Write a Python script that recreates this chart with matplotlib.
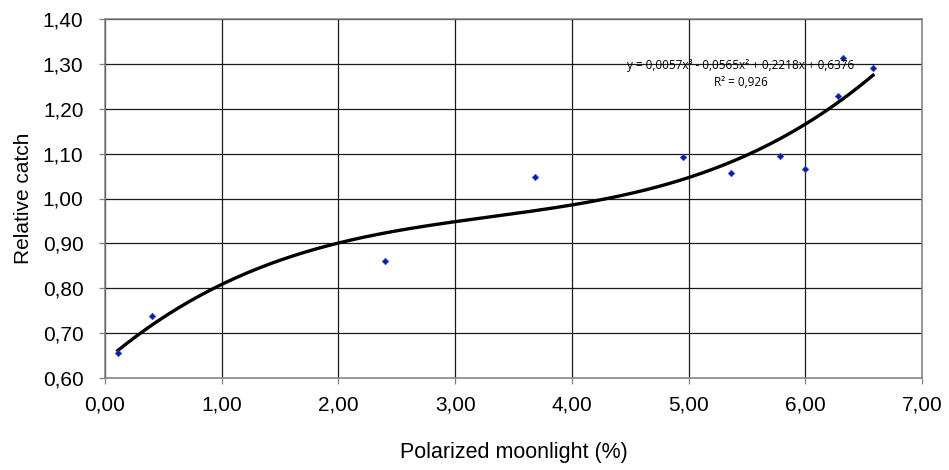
import matplotlib
matplotlib.use("Agg")
import matplotlib.pyplot as plt
import numpy as np

# Data
polarized = [0.11, 0.40, 2.40, 3.68, 4.95, 5.36, 5.78, 6.00, 6.28, 6.32, 6.58]
catch = [0.656, 0.738, 0.861, 1.048, 1.092, 1.057, 1.095, 1.065, 1.229, 1.314, 1.290]

# Trendline coefficients as printed on the chart (cubic, highest power first)
trend_coef = [0.0057, -0.0565, 0.2218, 0.6376]
trend_text = "y = 0,0057x³ - 0,0565x² + 0,2218x + 0,6376"
r2_text = "R² = 0,926"

x_ticks = [0, 1, 2, 3, 4, 5, 6, 7]
x_ticklabels = ["0,00", "1,00", "2,00", "3,00", "4,00", "5,00", "6,00", "7,00"]
y_ticks = [0.6, 0.7, 0.8, 0.9, 1.0, 1.1, 1.2, 1.3, 1.4]
y_ticklabels = ["0,60", "0,70", "0,80", "0,90", "1,00", "1,10", "1,20", "1,30", "1,40"]

plt.rcParams['font.family'] = ['Liberation Sans', 'DejaVu Sans']

fig = plt.figure(figsize=(9.49, 4.70), dpi=100)
ax = fig.add_axes([105/949, 1 - 378/470, (922 - 105)/949, (378 - 19)/470])

ax.set_xlim(0, 7)
ax.set_ylim(0.6, 1.4)
ax.set_xticks(x_ticks)
ax.set_xticklabels(x_ticklabels)
ax.set_yticks(y_ticks)
ax.set_yticklabels(y_ticklabels)
ax.tick_params(axis='both', labelsize=15, direction='out', length=4.5,
               width=0.9, color='#808080')
ax.tick_params(axis='y', pad=11)
ax.tick_params(axis='x', pad=8)

ax.grid(True, color='#1a1a1a', linewidth=0.9)
ax.set_axisbelow(True)
for s in ax.spines.values():
    s.set_color('#808080')
    s.set_linewidth(1.1)

# trendline
xs = np.linspace(min(polarized), max(polarized), 200)
ys = np.polyval(trend_coef, xs)
ax.plot(xs, ys, color='black', linewidth=2.4, zorder=3)

ax.scatter(polarized, catch, marker='D', s=11, color='#0B1E9A',
           edgecolors='#3050C8', linewidths=0.5, zorder=4)

ax.text(5.45, 1.296, trend_text, fontsize=8.5, ha='center', va='center',
        family=['Open Sans', 'DejaVu Sans'], zorder=5)
ax.text(5.45, 1.258, r2_text, fontsize=8.5, ha='center', va='center',
        family=['Open Sans', 'DejaVu Sans'], zorder=5)

ax.set_xlabel("Polarized moonlight (%)", fontsize=15.5, labelpad=20)
ax.set_ylabel("Relative catch", fontsize=15, labelpad=7)

fig.savefig("out.png", dpi=100)
